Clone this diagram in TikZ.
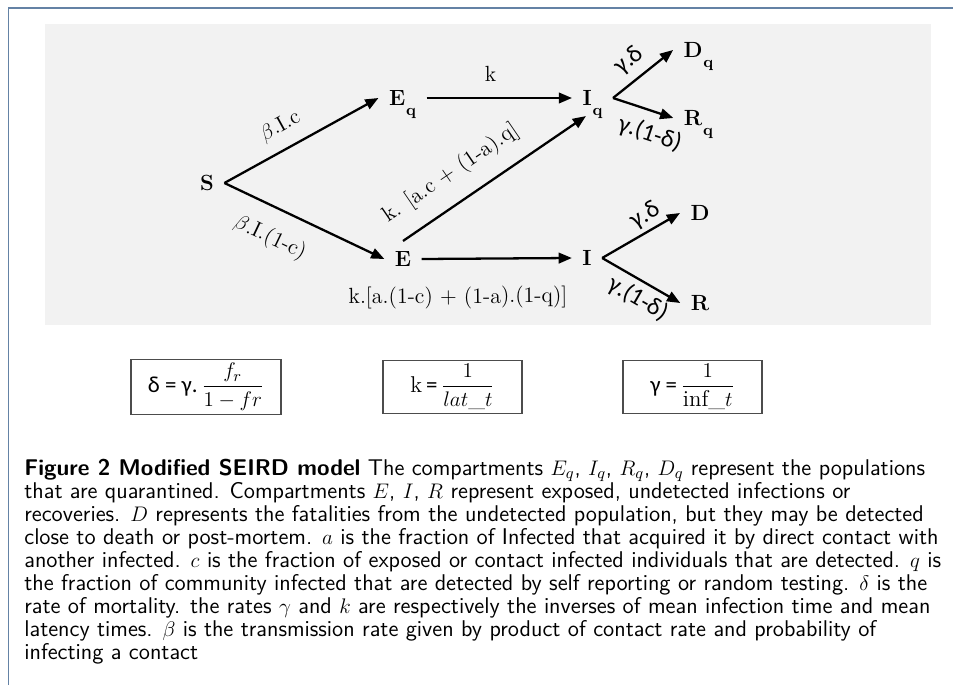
\documentclass[tikz,border=0pt]{standalone}
\usepackage{fontspec}
\usepackage{amsmath}
\usetikzlibrary{arrows.meta}
\newfontfamily\calibfont{Carlito}
\newcommand{\subq}{\smash{\raisebox{-5.5pt}{\kern0.5pt\fontsize{9}{9}\selectfont q}}}
\definecolor{framecol}{RGB}{100,130,165}
\tikzset{
  comp/.style={font=\fontsize{12.5}{15}\selectfont\bfseries, inner sep=1pt, outer sep=5pt},
  flow/.style={-{Triangle[length=7.5pt,width=6pt]}, line width=1.3pt},
  rate/.style={font=\fontsize{12.5}{15}\selectfont, inner sep=1pt, sloped},
  grate/.style={font=\fontsize{14}{16}\selectfont\calibfont, inner sep=1pt, sloped},
  formula/.style={draw=black!70, line width=0.6pt, minimum height=0.98cm,
    font=\fontsize{13}{15}\selectfont, inner sep=2pt},
}
\begin{document}
\begin{tikzpicture}
  \useasboundingbox (0,0) rectangle (19.06,13.7);
  % cadre et fond
  \draw[framecol, line width=1pt] (0.17,0) -- (0.17,13.54) -- (19.06,13.54);
  \fill[black!5] (0.9,7.2) rectangle (18.62,13.22);
  % compartiments
  \node[comp] (S) at (4.14,10.04) {S};
  \node[comp] (Eq) at (8.05,11.74) {E\subq};
  \node[comp] (E) at (8.06,8.52) {E};
  \node[comp] (Iq) at (11.85,11.74) {I\subq};
  \node[comp] (I) at (11.74,8.54) {I};
  \node[comp] (Dq) at (13.97,12.70) {D\subq};
  \node[comp] (Rq) at (13.97,11.34) {R\subq};
  \node[comp] (D) at (14.0,9.44) {D};
  \node[comp] (R) at (14.0,7.64) {R};
  % flux
  \draw[flow] (S.east) -- node[rate, pos=0.435, above=5.8pt] {$\beta$.I.c} (Eq.west);
  \draw[flow] (S.east) -- node[rate, pos=0.367, below=9.2pt] {$\beta$.I.(1-c)} (E.west);
  \draw[flow] (Eq.east) -- node[rate, pos=0.44, above=7.7pt] {k} (Iq.west);
  \draw[flow] (E.north) -- node[rate, pos=0.35, above=8.5pt] {k. [a.c + (1-a).q]} (Iq.250);
  \draw[flow] (E.east) -- node[rate, pos=0.24, below=14.3pt] {k.[a.(1-c) + (1-a).(1-q)]} (I.west);
  \draw[flow] (Iq.east) -- node[grate, pos=0.47, above=3.4pt] {γ.δ} (Dq.west);
  \draw[flow] (Iq.east) -- node[grate, pos=0.73, below=4.9pt] {γ.(1-δ)} (Rq.west);
  \draw[flow] (I.east) -- node[grate, pos=0.65, above=1.2pt] {γ.δ} (D.west);
  \draw[flow] (I.east) -- node[grate, pos=0.57, below=2pt] {γ.(1-δ)} (R.west);
  % formules
  \node[formula, minimum width=3.0cm] (fdelta) at (4.12,5.96)
    {{\calibfont δ = γ.}\,$\dfrac{f_r}{1-fr}$};
  \node[formula, minimum width=2.78cm] (fk) at (9.05,5.96)
    {k\,{\calibfont =}\,$\dfrac{1}{lat\text{\_}t}$};
  \node[formula, minimum width=2.78cm] (fgamma) at (13.85,5.96)
    {{\calibfont γ =}\,$\dfrac{1}{\mathrm{inf}\text{\_}t}$};
  % légende
  \node[anchor=north west, inner sep=0pt, align=left,
    font=\sffamily\fontsize{12.95}{13.1}\selectfont] (cap) at (0.48,4.53)
    {\textbf{Figure 2 Modified SEIRD model} The compartments $E_q$, $I_q$, $R_q$, $D_q$ represent the populations\\
     that are quarantined. Compartments $E$, $I$, $R$ represent exposed, undetected infections or\\
     recoveries. $D$ represents the fatalities from the undetected population, but they may be detected\\
     close to death or post-mortem. $a$ is the fraction of Infected that acquired it by direct contact with\\
     another infected. $c$ is the fraction of exposed or contact infected individuals that are detected. $q$ is\\
     the fraction of community infected that are detected by self reporting or random testing. $\delta$ is the\\
     rate of mortality. the rates $\gamma$ and $k$ are respectively the inverses of mean infection time and mean\\
     latency times. $\beta$ is the transmission rate given by product of contact rate and probability of\\
     infecting a contact};
\end{tikzpicture}
\end{document}
